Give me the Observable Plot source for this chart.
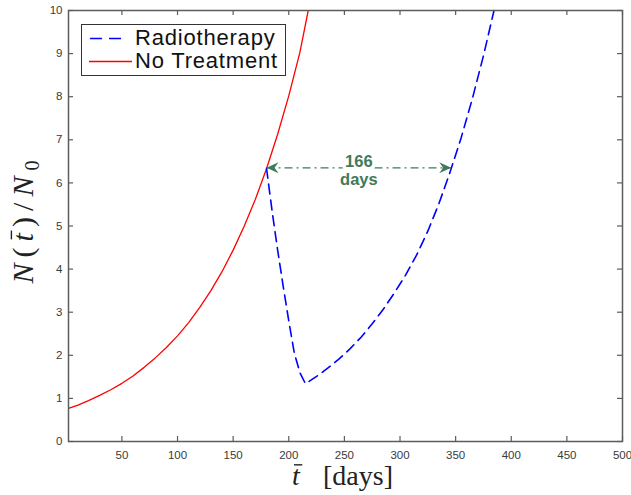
<!DOCTYPE html>
<html><head><meta charset="utf-8">
<script src="https://cdn.jsdelivr.net/npm/d3@7"></script>
<script src="https://cdn.jsdelivr.net/npm/@observablehq/plot@0.6"></script>
<style>body{margin:0;background:#fff} #chart{width:631px;height:495px}</style>
</head><body><div id="chart"></div>
<script>
// ---- data ----
const tNoTreat = [2, 10, 20, 30, 40, 50, 60, 70, 80, 90, 100, 110, 120, 130, 140, 150, 160, 170, 180, 190, 200, 210, 217.5];
const nNoTreat = [0.77, 0.84, 0.95, 1.07, 1.20, 1.35, 1.52, 1.72, 1.94, 2.18, 2.45, 2.76, 3.11, 3.50, 3.94, 4.44, 5.00, 5.62, 6.33, 7.13, 8.02, 9.03, 10.0];
const tRadio = [180, 185, 190, 195, 200, 205, 210, 215, 225, 235, 245, 255, 265, 275, 285, 295, 305, 315, 325, 335, 345, 355, 365, 375, 384.5];
const nRadio = [6.34, 5.35, 4.44, 3.60, 2.80, 2.05, 1.60, 1.34, 1.51, 1.70, 1.91, 2.15, 2.42, 2.73, 3.07, 3.45, 3.86, 4.33, 4.88, 5.52, 6.25, 7.05, 7.95, 8.95, 10.0];
const arrowT = [180, 346];
const arrowN = 6.35;
const arrowLabel = "166\ndays";
const xTicks = [50, 100, 150, 200, 250, 300, 350, 400, 450, 500];
const yTicks = [0, 1, 2, 3, 4, 5, 6, 7, 8, 9, 10];
const seriesNames = ["Radiotherapy", "No Treatment"];

const noTreat = tNoTreat.map((t, i) => ({t, n: nNoTreat[i]}));
const radio = tRadio.map((t, i) => ({t, n: nRadio[i]}));

const W = 631, H = 495, mL = 68, mR = 9, mT = 10, mB = 54;
const iW = W - mL - mR, iH = H - mT - mB;
const axisCol = "#5c5c5c", green = "#3f7a5c";

const arrowHead = {
  draw(ctx, size) {
    ctx.moveTo(0, 0);
    ctx.lineTo(-12, -5.5);
    ctx.lineTo(-8, 0);
    ctx.lineTo(-12, 5.5);
    ctx.closePath();
  }
};

const chart = Plot.plot({
  width: W, height: H,
  marginLeft: mL, marginRight: mR, marginTop: mT, marginBottom: mB,
  style: {background: "#fff", fontFamily: "'Liberation Sans', Arial, sans-serif", overflow: "visible"},
  x: {domain: [2, 500]},
  y: {domain: [0, 10]},
  marks: [
    Plot.line(noTreat, {x: "t", y: "n", stroke: "#ff0000", strokeWidth: 1.3, clip: true}),
    Plot.line(radio, {x: "t", y: "n", stroke: "#0000ff", strokeWidth: 1.6, strokeDasharray: "10,6", clip: true}),
    Plot.link([{x1: arrowT[0], x2: arrowT[1], y: arrowN}], {x1: "x1", x2: "x2", y1: "y", y2: "y", stroke: green, strokeWidth: 1.3, strokeDasharray: "8,4,2,4"}),
    Plot.dot([{x: arrowT[0], y: arrowN, r: 180}, {x: arrowT[1], y: arrowN, r: 0}], {x: "x", y: "y", rotate: "r", symbol: arrowHead, fill: green, stroke: "none", r: 5}),
    Plot.text([{x: (arrowT[0] + arrowT[1]) / 2, y: arrowN}], {x: "x", y: "y", text: () => arrowLabel, fill: green, fontWeight: "bold", fontSize: 16.5, lineHeight: 1.12, stroke: "white", strokeWidth: 7, dy: 2}),
    Plot.frame({stroke: axisCol, strokeWidth: 1.5}),
    Plot.tickX(xTicks, {x: d => d, insetTop: iH - 5, stroke: axisCol, strokeWidth: 1.2}),
    Plot.tickX(xTicks, {x: d => d, insetBottom: iH - 5, stroke: axisCol, strokeWidth: 1.2}),
    Plot.tickY(yTicks, {y: d => d, insetRight: iW - 5, stroke: axisCol, strokeWidth: 1.2}),
    Plot.tickY(yTicks, {y: d => d, insetLeft: iW - 5, stroke: axisCol, strokeWidth: 1.2}),
    Plot.axisX({ticks: xTicks, tickSize: 0, tickPadding: 9, fontSize: 11.5, color: "#3a3a3a", label: null, tickFormat: d => d}),
    Plot.axisY({ticks: yTicks, tickSize: 0, tickPadding: 6, fontSize: 11.5, color: "#3a3a3a", label: null, tickFormat: d => d})
  ]
});
document.getElementById("chart").appendChild(chart);

const svg = d3.select(chart);
const serif = "'Liberation Serif', 'DejaVu Serif', serif";
function overline(g, textNode, idx, fs) {
  const p = textNode.getStartPositionOfChar(idx);
  const e = textNode.getEndPositionOfChar(idx);
  g.append("line").attr("x1", p.x + 2).attr("x2", e.x + 2.5)
    .attr("y1", p.y - fs * 0.72).attr("y2", p.y - fs * 0.72)
    .attr("stroke", "#222").attr("stroke-width", 1.4);
}
// x label
const gx = svg.append("g").attr("transform", "translate(0,485)");
const xl = gx.append("text").attr("text-anchor", "start")
  .attr("font-family", serif).attr("font-size", 28).attr("fill", "#222");
xl.append("tspan").attr("x", 292).attr("font-style", "italic").text("t");
xl.append("tspan").attr("x", 323).text("[days]");
overline(gx, xl.node(), 0, 28);
// y label
const gy = svg.append("g").attr("transform", "translate(33,222) rotate(-90)");
const yl = gy.append("text").attr("text-anchor", "middle")
  .attr("font-family", serif).attr("font-size", 30).attr("fill", "#222")
  .attr("textLength", 123).attr("lengthAdjust", "spacing");
yl.append("tspan").attr("font-style", "italic").text("N");
yl.append("tspan").text("(");
yl.append("tspan").attr("font-style", "italic").text("t");
yl.append("tspan").text(")/");
yl.append("tspan").attr("font-style", "italic").text("N");
yl.append("tspan").attr("font-size", 20).attr("dy", 6).text("0");
overline(gy, yl.node(), 2, 30);

// legend
const lg = svg.append("g").attr("font-family", "'Liberation Sans', Arial, sans-serif").attr("text-anchor", "start");
lg.append("rect").attr("x", 81.5).attr("y", 24.5).attr("width", 204).attr("height", 51)
  .attr("fill", "#fff").attr("stroke", "#333").attr("stroke-width", 1);
lg.append("line").attr("x1", 90).attr("x2", 127).attr("y1", 38.5).attr("y2", 38.5)
  .attr("stroke", "#0000ff").attr("stroke-width", 1.6).attr("stroke-dasharray", "12,7");
lg.append("line").attr("x1", 89).attr("x2", 132).attr("y1", 61.5).attr("y2", 61.5)
  .attr("stroke", "#ff0000").attr("stroke-width", 1.3);
lg.append("text").attr("x", 135).attr("y", 44.5).attr("font-size", 22).attr("letter-spacing", 0.8).attr("fill", "#111").text(seriesNames[0]);
lg.append("text").attr("x", 135).attr("y", 67.5).attr("font-size", 22).attr("letter-spacing", 0.8).attr("fill", "#111").text(seriesNames[1]);
</script>
</body></html>
